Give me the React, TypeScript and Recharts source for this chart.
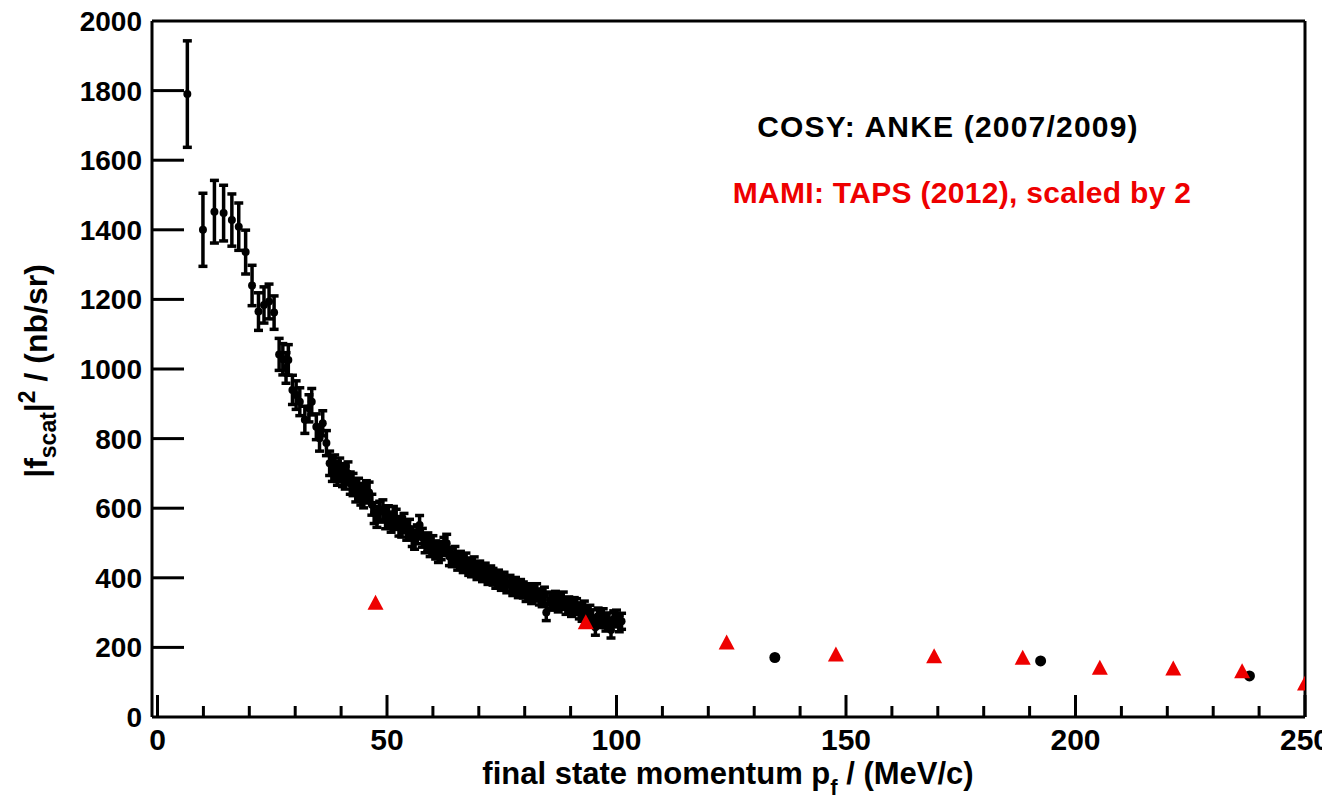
import React from "react";
import { ErrorBar, ReferenceLine, Scatter, ScatterChart, XAxis, YAxis } from "recharts";

// COSY/ANKE, dense low-momentum set (p_f in MeV/c, |f|^2 in nb/sr)
const ankeP = [
  6.5, 9.9, 12.4, 14.4, 16.2, 17.7, 19.2, 20.6, 22.0, 23.2, 24.3, 25.4, 26.5, 27.3, 28.0, 28.5, 29.4, 30.2, 31.0, 32.1,
  33.0, 33.6, 34.6, 35.3, 36.0, 36.8, 37.5, 38.1, 38.6, 39.2, 39.7, 40.3, 40.9, 41.5, 42.0, 42.6, 43.2, 43.8, 44.3, 44.9,
  45.5, 46.1, 46.7, 47.2, 47.8, 48.4, 49.1, 49.7, 50.3, 50.9, 51.4, 52.0, 52.6, 53.2, 53.7, 54.3, 54.9, 55.5, 56.0, 56.6,
  57.1, 57.7, 58.3, 58.9, 59.4, 60.0, 60.6, 61.2, 61.8, 62.4, 63.0, 63.6, 64.2, 64.8, 65.4, 66.0, 66.6, 67.2, 67.8, 68.4,
  69.0, 69.6, 70.2, 70.8, 71.4, 72.0, 72.6, 73.1, 73.7, 74.3, 74.9, 75.5, 76.1, 76.8, 77.4, 78.0, 78.6, 79.1, 79.7, 80.3,
  80.9, 81.5, 82.0, 82.6, 83.2, 83.8, 84.3, 84.7, 85.5, 86.1, 86.7, 87.3, 87.8, 88.4, 89.0, 89.6, 90.2, 90.8, 91.3, 91.9,
  92.5, 93.0, 93.6, 94.2, 94.8, 95.4, 96.0, 96.5, 97.1, 97.7, 98.3, 98.8, 99.4, 100.0, 100.6, 101.1,
];
const ankeF = [
  1790, 1400, 1452, 1448, 1428, 1409, 1336, 1240, 1165, 1184, 1194, 1162, 1042, 1028, 1003, 1026, 940, 925, 906, 854,
  887, 906, 834, 801, 844, 787, 729, 712, 719, 700, 710, 695, 688, 700, 672, 668, 650, 655, 640, 632,
  648, 645, 610, 586, 575, 590, 595, 570, 578, 560, 576, 568, 548, 545, 557, 536, 540, 518, 509, 525,
  552, 515, 499, 502, 488, 495, 480, 470, 478, 490, 499, 461, 458, 465, 447, 451, 440, 446, 432, 428,
  435, 420, 424, 413, 418, 405, 410, 403, 394, 398, 388, 392, 380, 384, 372, 378, 366, 372, 365, 355,
  360, 349, 356, 360, 345, 340, 350, 300, 336, 330, 338, 325, 332, 336, 318, 322, 312, 320, 317, 305,
  298, 310, 295, 298, 285, 258, 290, 280, 288, 270, 276, 250, 282, 284, 268, 275,
];
const ankeErr = [
  153, 105, 90, 80, 75, 68, 63, 58, 54, 52, 50, 48, 46, 45, 44, 44, 42, 41, 40, 39,
  39, 38, 37, 37, 36, 36, 35, 35, 34, 34, 34, 33, 33, 33, 32, 32, 32, 31, 31, 31,
  31, 30, 30, 30, 30, 30, 29, 29, 29, 29, 29, 29, 28, 28, 28, 28, 28, 28, 27, 27,
  27, 27, 27, 27, 27, 26, 26, 26, 26, 26, 26, 26, 26, 25, 25, 25, 25, 25, 25, 25,
  25, 25, 24, 24, 24, 24, 24, 24, 24, 24, 24, 24, 23, 23, 23, 23, 23, 23, 23, 23,
  23, 23, 23, 23, 23, 23, 23, 23, 23, 23, 23, 23, 23, 23, 23, 23, 23, 23, 23, 23,
  23, 23, 23, 23, 23, 23, 23, 23, 23, 23, 23, 23, 23, 23, 23, 23,
];

// COSY/ANKE, three higher-momentum points
const ankeHighP = [134.5, 192.4, 237.9];
const ankeHighF = [171, 161, 118];

// MAMI/TAPS (2012), scaled by 2
const mamiP = [47.5, 93.3, 124.0, 147.8, 169.2, 188.5, 205.3, 221.3, 236.3, 250.0];
const mamiF = [327, 271, 213, 178, 173, 169, 140, 138, 130, 95];

const xTicks = [0, 10, 20, 30, 40, 50, 60, 70, 80, 90, 100, 110, 120, 130, 140, 150, 160, 170, 180, 190, 200, 210, 220, 230, 240, 250];
const yTicks = [0, 200, 400, 600, 800, 1000, 1200, 1400, 1600, 1800, 2000];

const anke = ankeP.map((p, i) => ({ p, f: ankeF[i], err: ankeErr[i] }));
const ankeHigh = ankeHighP.map((p, i) => ({ p, f: ankeHighF[i] }));
const mami = mamiP.map((p, i) => ({ p, f: mamiF[i] }));

const RED = "#ee0000";
const FONT = '"Liberation Sans", Arial, sans-serif';

function XTick(props: any) {
  const { x, y, payload } = props;
  const v = payload.value;
  const major = v % 50 === 0;
  return (
    <g>
      <line x1={x} x2={x} y1={y} y2={y - (major ? 22 : 11)} stroke="#000" strokeWidth={3} />
      {major && (
        <text x={x} y={y + 33} textAnchor="middle" fontSize={30} fontWeight="bold" fontFamily={FONT} fill="#000">
          {v}
        </text>
      )}
    </g>
  );
}

function YTick(props: any) {
  const { x, y, payload } = props;
  const v = payload.value;
  return (
    <g>
      {v > 0 && v < 2000 && <line x1={x} x2={x + 32} y1={y} y2={y} stroke="#000" strokeWidth={3} />}
      <text x={x - 10} y={y} dy="0.36em" textAnchor="end" fontSize={28} fontWeight="bold" fontFamily={FONT} fill="#000">
        {v}
      </text>
    </g>
  );
}

const Dot = (props: any) => <circle cx={props.cx} cy={props.cy} r={4} fill="#000" />;
const BigDot = (props: any) => <circle cx={props.cx} cy={props.cy} r={5.5} fill="#000" />;
const Tri = (props: any) => {
  const { cx, cy } = props;
  return <polygon points={`${cx},${cy - 8.5} ${cx - 8},${cy + 6.5} ${cx + 8},${cy + 6.5}`} fill={RED} />;
};

export default function App() {
  return (
    <div style={{ position: "absolute", left: 0, top: 0, width: 1322, height: 798, background: "#fff", fontFamily: FONT }}>
      <ScatterChart width={1322} height={798} margin={{ top: 21, right: 17, bottom: 0, left: 0 }}>
        <XAxis
          type="number"
          dataKey="p"
          domain={[-1.2, 250]}
          ticks={xTicks}
          interval={0}
          height={81}
          tickSize={0}
          tickMargin={0}
          tickLine={false}
          tick={<XTick />}
          axisLine={{ stroke: "#000", strokeWidth: 3 }}
          allowDataOverflow
        />
        <YAxis
          type="number"
          dataKey="f"
          domain={[0, 2000]}
          ticks={yTicks}
          interval={0}
          width={152}
          tickSize={0}
          tickMargin={0}
          tickLine={false}
          tick={<YTick />}
          axisLine={{ stroke: "#000", strokeWidth: 3 }}
          allowDataOverflow
        />
        <ReferenceLine y={2000} stroke="#000" strokeWidth={3} />
        <ReferenceLine x={250} stroke="#000" strokeWidth={3} />
        <Scatter data={anke} shape={Dot} isAnimationActive={false}>
          <ErrorBar dataKey="err" direction="y" width={4.5} stroke="#000" strokeWidth={3.5} isAnimationActive={false} />
        </Scatter>
        <Scatter data={ankeHigh} shape={BigDot} isAnimationActive={false} />
        <Scatter data={mami} shape={Tri} isAnimationActive={false} />
      </ScatterChart>

      <div style={{ position: "absolute", left: 598, top: 112, width: 700, textAlign: "center", fontSize: 30, lineHeight: "30px", fontWeight: "bold", letterSpacing: 1.2, color: "#000" }}>
        COSY: ANKE (2007/2009)
      </div>
      <div style={{ position: "absolute", left: 612, top: 178, width: 700, textAlign: "center", fontSize: 30, lineHeight: "30px", fontWeight: "bold", letterSpacing: 0.3, color: RED }}>
        MAMI: TAPS (2012), scaled by 2
      </div>

      <div style={{ position: "absolute", left: 328, top: 758, width: 800, textAlign: "center", fontSize: 31, lineHeight: "31px", fontWeight: "bold", color: "#000", whiteSpace: "nowrap" }}>
        final state momentum p<span style={{ position: "relative", top: 11, fontSize: 22 }}>f</span> / (MeV/c)
      </div>

      <div
        style={{
          position: "absolute",
          left: 36 - 200,
          top: 371 - 16,
          width: 400,
          height: 32,
          textAlign: "center",
          fontSize: 32,
          lineHeight: "32px",
          fontWeight: "bold",
          color: "#000",
          whiteSpace: "nowrap",
          transform: "rotate(-90deg)",
          transformOrigin: "50% 50%",
        }}
      >
        |f<span style={{ position: "relative", top: 9, fontSize: 23 }}>scat</span>|<span style={{ position: "relative", top: -12, fontSize: 23 }}>2</span> / (nb/sr)
      </div>
    </div>
  );
}
